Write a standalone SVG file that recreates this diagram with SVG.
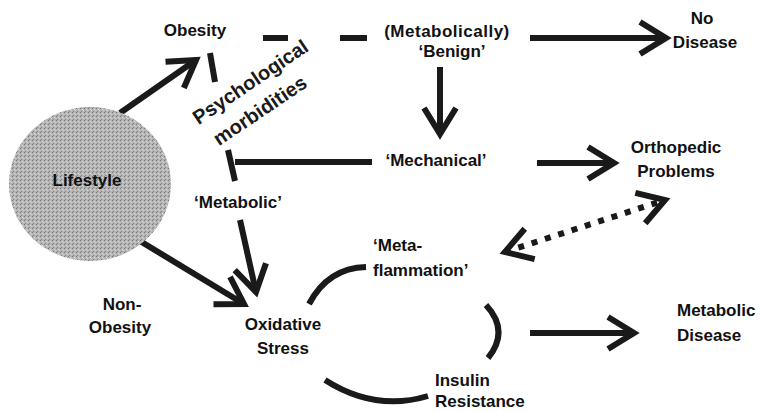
<svg xmlns="http://www.w3.org/2000/svg" width="762" height="411" viewBox="0 0 762 411">
<style>
text{font-family:"Liberation Sans",Arial,sans-serif;font-weight:bold;font-size:17px;fill:#111}
.c{text-anchor:middle}
.big{font-size:20px;fill:#1a1a1a}
.ln{fill:none;stroke:#1a1a1a;stroke-width:6}
.ar{marker-end:url(#chev)}
</style>
<defs>
<pattern id="speck" width="4" height="4" patternUnits="userSpaceOnUse">
<rect width="4" height="4" fill="#b4b4b4"/>
<rect x="0" y="0" width="1" height="1" fill="#777"/>
<rect x="2" y="1" width="1" height="1" fill="#dcdcdc"/>
<rect x="1" y="3" width="1" height="1" fill="#888"/>
<rect x="3" y="2" width="1" height="1" fill="#cfcfcf"/>
</pattern>
<marker id="chev" markerUnits="userSpaceOnUse" viewBox="-40 -30 50 60" refX="0" refY="0" markerWidth="50" markerHeight="60" orient="auto-start-reverse">
<path d="M-26,-16 L0,0 L-26,16" fill="none" stroke="#1a1a1a" stroke-width="6" stroke-linejoin="miter"/>
</marker>
</defs>
<rect width="762" height="411" fill="#fff"/>

<g id="connectors">
<line class="ln ar" x1="120" y1="113" x2="196" y2="60"/>
<line class="ln" x1="210" y1="53" x2="215" y2="82"/>
<line class="ln" x1="228" y1="150" x2="235" y2="181"/>
<line class="ln ar" x1="240" y1="220" x2="256" y2="292"/>
<line class="ln" x1="235" y1="162" x2="372" y2="162"/>
<line class="ln" x1="263" y1="38" x2="288" y2="38"/>
<line class="ln" x1="340" y1="38" x2="367" y2="38"/>
<line class="ln ar" x1="530" y1="38" x2="666" y2="38"/>
<line class="ln ar" x1="440" y1="67" x2="440" y2="134"/>
<line class="ln ar" x1="537" y1="163" x2="614" y2="163"/>
<line class="ln" x1="505" y1="252" x2="665" y2="200" stroke-dasharray="6 8" marker-start="url(#chev)" marker-end="url(#chev)"/>
<line class="ln ar" x1="135" y1="238" x2="244" y2="304"/>
<line class="ln ar" x1="530" y1="333" x2="634" y2="333"/>
<path class="ln" d="M309,304 Q328,268 366,267"/>
<path class="ln" d="M486,305 Q510,331 488,358"/>
<path class="ln" d="M325,380 Q375,412 428,396"/>
</g>

<g id="lifestyle">
<ellipse cx="90" cy="184" rx="81" ry="77" fill="url(#speck)"/>
<text class="c" x="87" y="186">Lifestyle</text>
</g>
<g id="obesity"><text class="c" x="195" y="36">Obesity</text></g>
<g id="psych">
<g transform="translate(257,99) rotate(-34)">
<text class="c big" x="4" y="-11">Psychological</text>
<text class="c big" x="-4" y="18">morbidities</text>
</g>
</g>
<g id="benign">
<text class="c" x="447" y="37" letter-spacing="0.5">(Metabolically)</text>
<text class="c" x="452" y="57">‘Benign’</text>
</g>
<g id="nodisease">
<text class="c" x="702" y="24">No</text>
<text class="c" x="705" y="48">Disease</text>
</g>
<g id="mechanical"><text class="c" x="436" y="166">‘Mechanical’</text></g>
<g id="orthopedic">
<text class="c" x="676" y="153">Orthopedic</text>
<text class="c" x="676" y="177">Problems</text>
</g>
<g id="metabolic"><text class="c" x="238" y="208">‘Metabolic’</text></g>
<g id="metaflammation">
<text x="373" y="251">‘Meta-</text>
<text x="373" y="276">flammation’</text>
</g>
<g id="nonobesity">
<text class="c" x="122" y="310">Non-</text>
<text class="c" x="120" y="333">Obesity</text>
</g>
<g id="oxidative">
<text class="c" x="283" y="330">Oxidative</text>
<text class="c" x="283" y="354">Stress</text>
</g>
<g id="insulin">
<text x="435" y="386">Insulin</text>
<text x="435" y="407">Resistance</text>
</g>
<g id="metabolicdisease">
<text x="677" y="316">Metabolic</text>
<text x="677" y="341">Disease</text>
</g>
</svg>
